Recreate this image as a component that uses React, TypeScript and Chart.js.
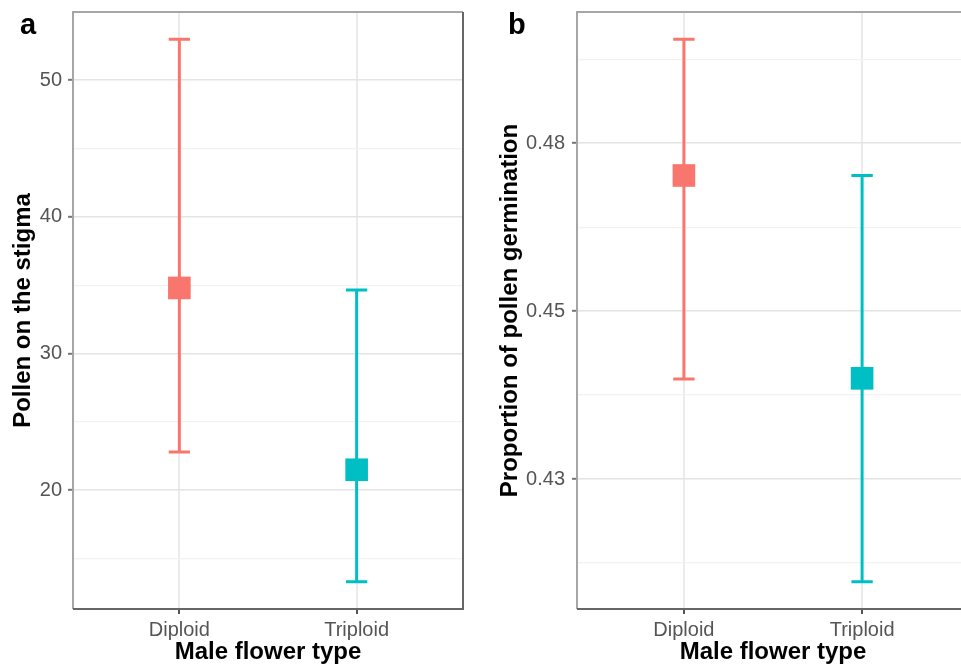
import React, { useEffect, useRef } from 'react';
import { Chart, registerables } from 'chart.js';

Chart.register(...registerables);

// ---------- data ----------
const categories = ['Diploid', 'Triploid'];
const groupColors = ['#F8766D', '#00BFC4'];

const pollenMean = [34.8, 21.5];
const pollenLow = [22.8, 13.3];
const pollenHigh = [53.0, 34.65];
const pollenMajorTicks = [20, 30, 40, 50];
const pollenMajorLabels = ['20', '30', '40', '50'];
const pollenMinorTicks = [15, 25, 35, 45];

const germMean = [0.4702, 0.44];
const germLow = [0.4399, 0.4097];
const germHigh = [0.4905, 0.4702];
const germMajorTicks = [0.425, 0.45, 0.475];
const germMajorLabels = ['0.43', '0.45', '0.48'];
const germMinorTicks = [0.4125, 0.4375, 0.4625, 0.4875];

const FONT = '"Liberation Sans", Arial, Helvetica, sans-serif';
const CAP_HALF = 0.06;

type Panel = {
  letter: string;
  letterX: number;
  yTitle: string;
  mean: number[];
  low: number[];
  high: number[];
  major: number[];
  majorLabels: string[];
  minor: number[];
  yAxisWidth: number;
  padRight: number;
  titlePad: number;
  tickPad: number;
};

function near(a: number, b: number, span: number) {
  return Math.abs(a - b) < span * 1e-6;
}

function makePlugin(p: Panel) {
  return {
    id: 'panelDecor' + p.letter,
    beforeDatasetsDraw(chart: any) {
      const { ctx } = chart;
      const xs = chart.scales.x;
      const ys = chart.scales.y;
      ctx.save();
      ctx.lineWidth = 3;
      ctx.lineCap = 'butt';
      categories.forEach((_, i) => {
        const x = xs.getPixelForValue(i + 1);
        const xl = xs.getPixelForValue(i + 1 - CAP_HALF);
        const xr = xs.getPixelForValue(i + 1 + CAP_HALF);
        const yl = ys.getPixelForValue(p.low[i]);
        const yh = ys.getPixelForValue(p.high[i]);
        ctx.strokeStyle = groupColors[i];
        ctx.beginPath();
        ctx.moveTo(x, yl);
        ctx.lineTo(x, yh);
        ctx.moveTo(xl, yl);
        ctx.lineTo(xr, yl);
        ctx.moveTo(xl, yh);
        ctx.lineTo(xr, yh);
        ctx.stroke();
      });
      ctx.restore();
    },
    afterDraw(chart: any) {
      const { ctx, chartArea } = chart;
      const { left, top, right, bottom } = chartArea;
      ctx.save();
      ctx.lineWidth = 2;
      ctx.strokeStyle = '#a6a6a6';
      ctx.beginPath();
      ctx.moveTo(left, bottom);
      ctx.lineTo(left, top);
      ctx.lineTo(right, top);
      ctx.stroke();
      ctx.strokeStyle = '#666666';
      ctx.beginPath();
      ctx.moveTo(right, top);
      ctx.lineTo(right, bottom);
      ctx.lineTo(left, bottom);
      ctx.stroke();
      ctx.fillStyle = '#000';
      ctx.font = 'bold 29px ' + FONT;
      ctx.textAlign = 'left';
      ctx.textBaseline = 'alphabetic';
      ctx.fillText(p.letter, p.letterX, 34);
      ctx.restore();
    },
  };
}

function makeConfig(p: Panel): any {
  const lo = Math.min(...p.low);
  const hi = Math.max(...p.high);
  const span = hi - lo;
  const yMin = lo - 0.05 * span;
  const yMax = hi + 0.05 * span;
  const isMajor = (v: number) => p.major.some((m) => near(m, v, span));
  const yTicks = [...p.minor, ...p.major].sort((a, b) => a - b);

  return {
    type: 'scatter',
    data: {
      datasets: [
        {
          data: categories.map((_, i) => ({ x: i + 1, y: p.mean[i] })),
          backgroundColor: groupColors,
          borderColor: groupColors,
          pointStyle: 'rect',
          pointRadius: 16,
          pointBorderWidth: 0,
          showLine: false,
        },
      ],
    },
    options: {
      responsive: false,
      animation: false,
      devicePixelRatio: 1,
      events: [],
      layout: {
        autoPadding: false,
        padding: { left: 0, top: 12, right: p.padRight, bottom: 0 },
      },
      plugins: { legend: { display: false }, tooltip: { enabled: false } },
      scales: {
        x: {
          type: 'linear',
          min: 0.4,
          max: 2.6,
          afterBuildTicks: (s: any) => {
            s.ticks = categories.map((_, i) => ({ value: i + 1 }));
          },
          afterFit: (s: any) => {
            s.height = 60;
            s.paddingLeft = 0;
            s.paddingRight = 0;
          },
          ticks: {
            callback: (v: number) => categories[Math.round(v) - 1] ?? '',
            color: '#555555',
            font: { family: FONT, size: 20 },
            padding: 4,
            maxRotation: 0,
            autoSkip: false,
          },
          grid: {
            color: '#ebebeb',
            lineWidth: 2,
            tickLength: 5,
            tickColor: '#555555',
            tickWidth: 2,
          },
          border: { display: false },
          title: {
            display: true,
            text: 'Male flower type',
            color: '#000',
            font: { family: FONT, size: 24, weight: 'bold' },
            padding: { top: 0, bottom: 2 },
          },
        },
        y: {
          type: 'linear',
          min: yMin,
          max: yMax,
          afterBuildTicks: (s: any) => {
            s.ticks = yTicks.map((v) => ({ value: v }));
          },
          afterFit: (s: any) => {
            s.width = p.yAxisWidth;
            s.paddingTop = 0;
            s.paddingBottom = 0;
          },
          ticks: {
            callback: (v: number) => {
              const idx = p.major.findIndex((m) => near(m, v, span));
              return idx >= 0 ? p.majorLabels[idx] : '';
            },
            color: '#555555',
            font: { family: FONT, size: 20 },
            padding: p.tickPad,
            autoSkip: false,
          },
          grid: {
            color: (c: any) => (c.tick && isMajor(c.tick.value) ? '#e4e4e4' : '#f2f2f2'),
            lineWidth: (c: any) => (c.tick && isMajor(c.tick.value) ? 1.6 : 1.3),
            tickLength: 5,
            tickColor: (c: any) =>
              c.tick && isMajor(c.tick.value) ? '#777777' : 'rgba(0,0,0,0)',
            tickWidth: 2,
          },
          border: { display: false },
          title: {
            display: true,
            text: p.yTitle,
            color: '#000',
            font: { family: FONT, size: 24, weight: 'bold' },
            padding: { top: p.titlePad, bottom: 0 },
          },
        },
      },
    },
    plugins: [makePlugin(p)],
  };
}

const panelA: Panel = {
  letter: 'a',
  letterX: 20,
  yTitle: 'Pollen on the stigma',
  mean: pollenMean,
  low: pollenLow,
  high: pollenHigh,
  major: pollenMajorTicks,
  majorLabels: pollenMajorLabels,
  minor: pollenMinorTicks,
  yAxisWidth: 73,
  padRight: 17,
  titlePad: 9,
  tickPad: 6,
};

const panelB: Panel = {
  letter: 'b',
  letterX: 18,
  yTitle: 'Proportion of pollen germination',
  mean: germMean,
  low: germLow,
  high: germHigh,
  major: germMajorTicks,
  majorLabels: germMajorLabels,
  minor: germMinorTicks,
  yAxisWidth: 87,
  padRight: 11,
  titlePad: 6,
  tickPad: 7,
};

function PanelChart({ panel, width, left }: { panel: Panel; width: number; left: number }) {
  const ref = useRef<HTMLCanvasElement | null>(null);
  useEffect(() => {
    if (!ref.current) return;
    const chart = new Chart(ref.current, makeConfig(panel));
    return () => chart.destroy();
  }, [panel]);
  return (
    <canvas
      ref={ref}
      width={width}
      height={669}
      style={{ position: 'absolute', left, top: 0, width, height: 669 }}
    />
  );
}

export default function App() {
  return (
    <div
      style={{
        position: 'absolute',
        left: 0,
        top: 0,
        width: 961,
        height: 669,
        overflow: 'hidden',
        background: '#ffffff',
      }}
    >
      <PanelChart panel={panelA} width={480} left={0} />
      <PanelChart panel={panelB} width={490} left={490} />
    </div>
  );
}
